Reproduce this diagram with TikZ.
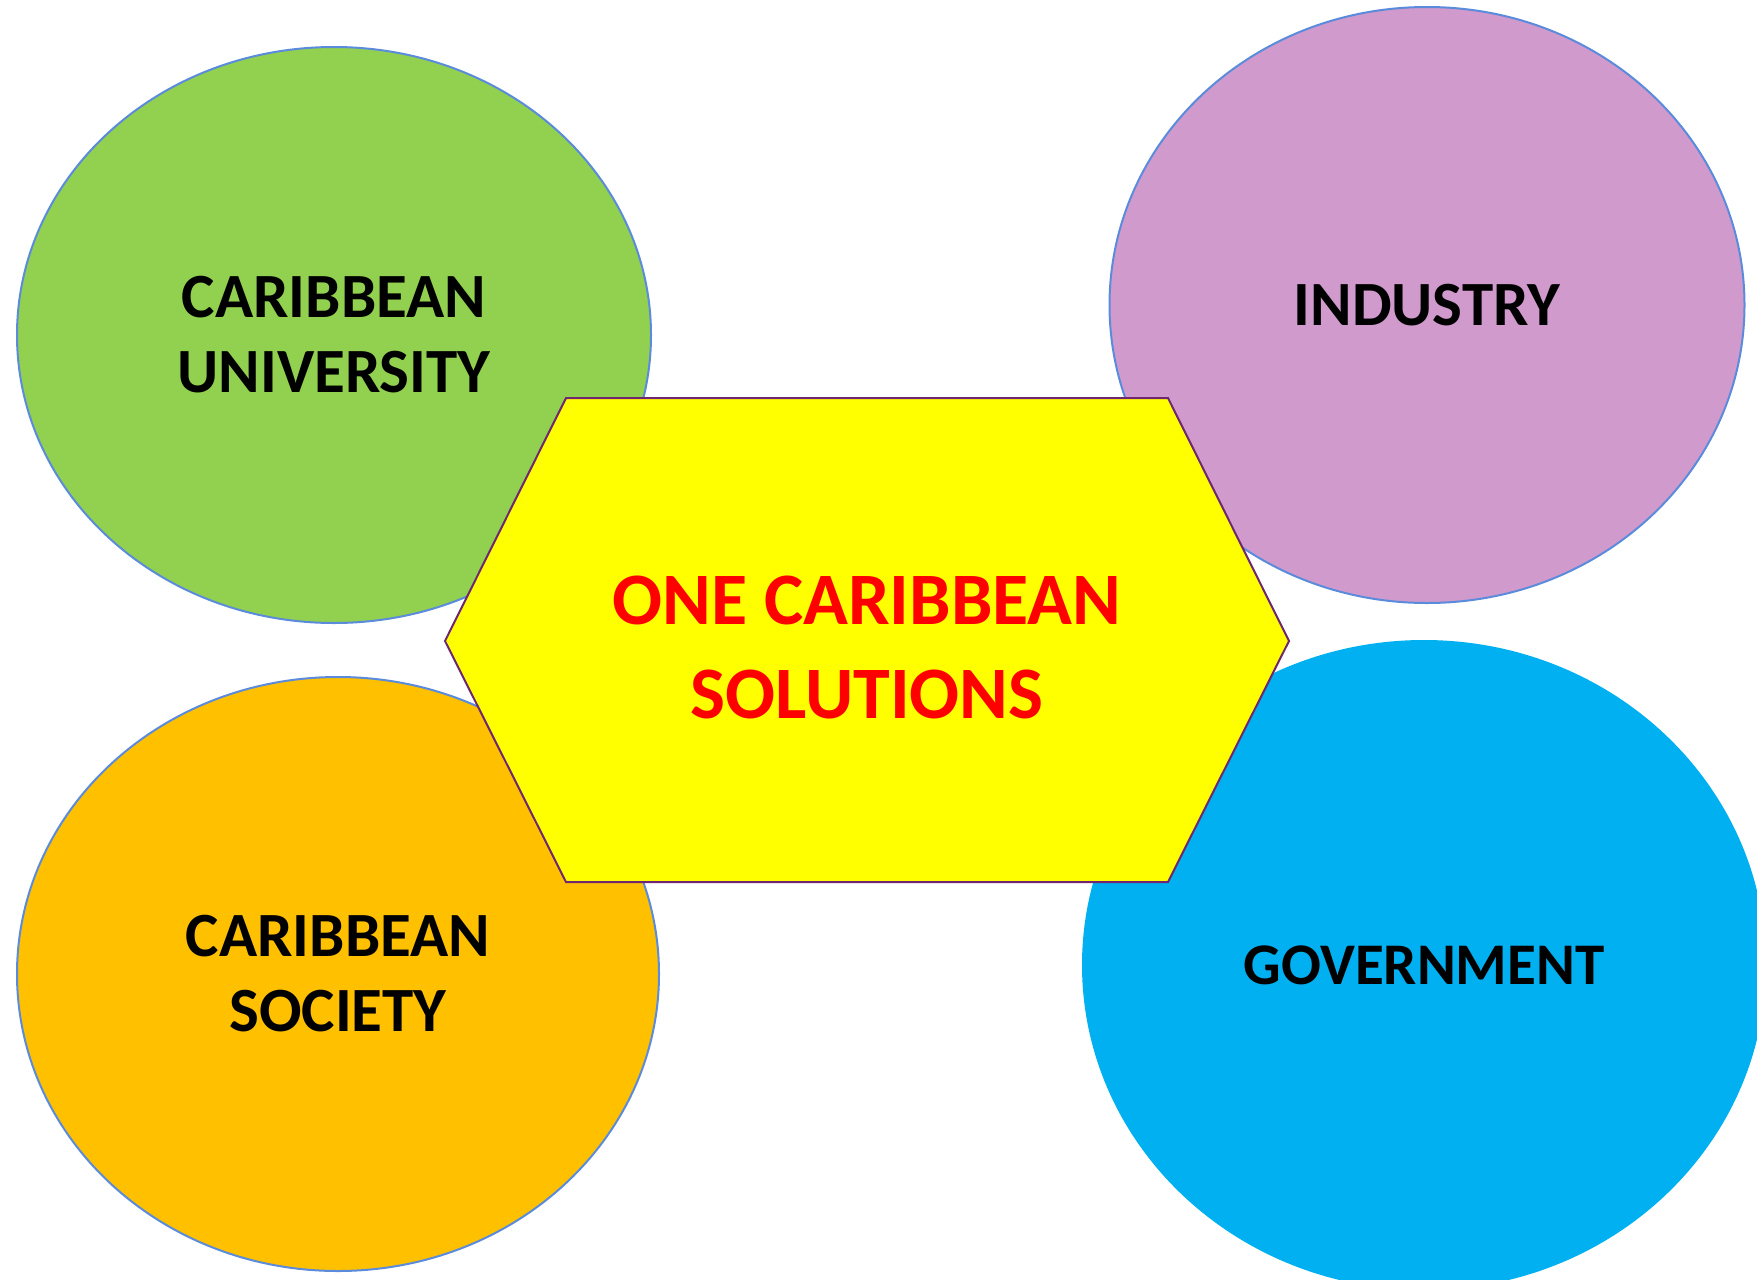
\documentclass[tikz,border=0pt]{standalone}
\usepackage{fontspec}
\setmainfont{Carlito}
\usetikzlibrary{shapes.geometric}

\definecolor{ringline}{HTML}{5B8BDB}
\definecolor{hexline}{HTML}{702670}
\definecolor{hexYellow}{HTML}{FFFF00}
\definecolor{coreRed}{HTML}{FF0000}
\definecolor{uniGreen}{HTML}{92D050}
\definecolor{indPurple}{HTML}{D09ACD}
\definecolor{socOrange}{HTML}{FFC000}
\definecolor{govBlue}{HTML}{00B0F0}

\begin{document}
\begin{tikzpicture}[
    x=1pt, y=-1pt,
    every node/.style={align=center, inner sep=0pt},
    blob/.style={ellipse, draw=ringline, line width=2pt,
      font=\bfseries\fontsize{63}{75}\selectfont},
    hexbox/.style={fill=hexYellow, draw=hexline, line width=2pt, line join=miter},
    coretext/.style={text=coreRed, font=\bfseries\fontsize{74}{94}\selectfont}
]
\useasboundingbox (0,0) rectangle (1757,1280);
\clip (0,0) rectangle (1757,1280);

% the four partners
\node[blob, fill=uniGreen, minimum width=634, minimum height=576]
  (uni) at (334,335) {CARIBBEAN\\UNIVERSITY};
\node[blob, fill=indPurple, minimum width=635, minimum height=596]
  (ind) at (1427,305) {INDUSTRY};
\node[blob, fill=socOrange, minimum width=642, minimum height=594]
  (soc) at (338,974) {CARIBBEAN\\SOCIETY};
\node[blob, fill=govBlue, draw=none, minimum width=684, minimum height=650,
  font=\bfseries\fontsize{59}{75}\selectfont]
  (gov) at (1424,965) {GOVERNMENT};

% centre hexagon
\draw[hexbox] (445,641) -- (566,398) -- (1168,398) -- (1289,641)
  -- (1168,882) -- (566,882) -- cycle;
\node[coretext] (core) at (867,647) {ONE CARIBBEAN\\SOLUTIONS};
\end{tikzpicture}
\end{document}
